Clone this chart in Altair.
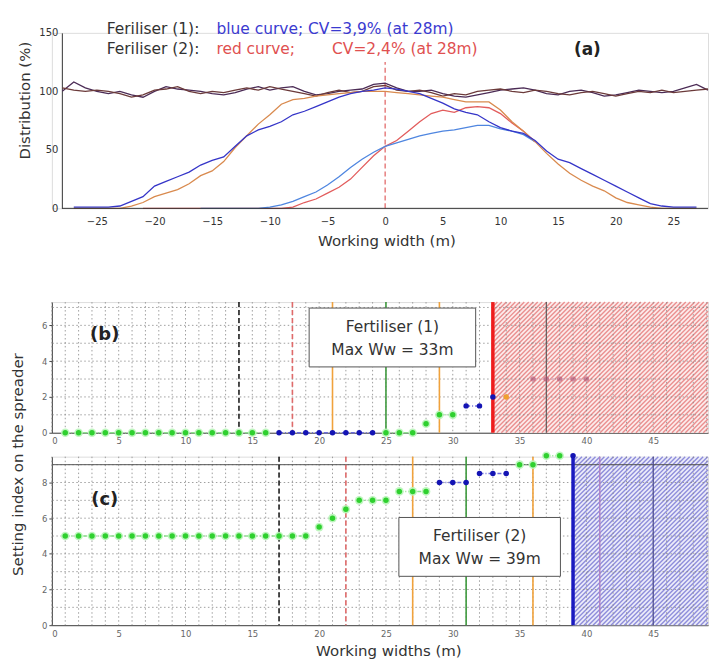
import altair as alt
import pandas as pd

FONT = "DejaVu Sans"

# ---------------- (a) distribution curves ----------------
a_sum_x = list(range(-28, 29))
a_sum1 = [100, 108, 103, 100, 98, 100, 97, 95, 100, 104,
          102, 101, 100, 98, 97, 99, 102, 104, 101, 103,
          104, 100, 97, 98, 100, 101, 102, 106, 107, 103,
          100, 100, 101, 98, 96, 95, 97, 99, 101, 102,
          103, 101, 98, 97, 100, 101, 99, 96, 97, 99,
          101, 100, 99, 100, 103, 106, 101]
a_sum2 = [103, 101, 100, 101, 100, 98, 95, 97, 101, 102,
          104, 100, 98, 100, 99, 101, 103, 101, 104, 102,
          100, 98, 96, 99, 101, 99, 100, 104, 105, 101,
          100, 101, 99, 96, 98, 97, 100, 101, 102, 100,
          99, 101, 100, 98, 97, 99, 100, 98, 96, 98,
          100, 99, 101, 99, 100, 101, 102]
a_main_x = list(range(-27, 28))
a_blue1 = [1, 1, 1, 1, 2, 6, 10, 19, 23, 27,
           31, 37, 41, 44, 53, 62, 67, 70, 74, 80,
           83, 87, 91, 95, 98, 100, 101, 103, 102, 100,
           98, 94, 90, 85, 82, 80, 74, 69, 66, 64,
           58, 49, 42, 39, 34, 29, 24, 19, 14, 9,
           4, 2, 1, 1, 1]
a_red1 = [0, 0, 0, 0, 0, 2, 5, 10, 13, 16,
          21, 28, 32, 40, 52, 62, 72, 80, 89, 93,
          94, 96, 97, 98, 99, 100, 100, 100, 99, 98,
          97, 96, 95, 93, 91, 91, 91, 84, 74, 66,
          57, 47, 38, 30, 24, 19, 15, 9, 5, 3,
          1, 0, 0, 0, 0]
a_blue2_x = [-16] + list(range(-11, 14))
a_blue2 = [0, 0, 1, 3, 6, 10, 14, 20, 27, 35, 42, 48, 53, 56, 59, 62, 64, 66,
           67, 69, 71, 71, 68, 66, 63, 57]
a_red2_x = [-21] + list(range(-9, 14))
a_red2 = [0, 0, 1, 5, 8, 13, 18, 25, 35, 45, 53, 58, 66, 74, 81, 84, 82, 86,
          87, 86, 81, 73, 66, 57]

# ---------------- (b) Fertiliser 1 settings ----------------
b_pts_x = list(range(1, 17)) + list(range(17, 25)) + [25, 26, 27, 28, 29, 30] + [31, 32, 33] + [34] + [36, 37, 38, 39, 40]
b_pts_y = [0] * 16 + [0] * 8 + [0, 0, 0, 0.5, 1, 1] + [1.5, 1.5, 2] + [2] + [3, 3, 3, 3, 3]
b_pts_c = ["green"] * 16 + ["blue"] * 8 + ["green"] * 6 + ["blue"] * 3 + ["orange"] + ["faint"] * 5
b_lines_x = [14, 18, 21, 25, 29, 33, 37]
b_lines_k = ["black_dash", "red_dash", "orange", "green", "orange", "max_red", "dark"]
b_max_ww = 33

# ---------------- (c) Fertiliser 2 settings ----------------
c_pts_x = list(range(1, 20)) + [20, 21, 22, 23, 24, 25, 26, 27, 28] + [29, 30, 31, 32, 33, 34] + [35, 36, 37, 38] + [39]
c_pts_y = [5] * 19 + [5.5, 6, 6.5, 7, 7, 7, 7.5, 7.5, 7.5] + [8, 8, 8, 8.5, 8.5, 8.5] + [9, 9, 9.5, 9.5] + [9.5]
c_pts_c = ["green"] * 19 + ["green"] * 9 + ["blue"] * 6 + ["green"] * 4 + ["blue"]
c_lines_x = [17, 22, 27, 31, 36, 39, 41, 45]
c_lines_k = ["black_dash", "red_dash", "orange", "green", "orange", "max_blue", "purple", "darkblue"]
c_max_ww = 39

# ---------------- layout constants ----------------
W = 658
HA, HB, HC = 176, 131, 169
XMAX = 49.1
YB_MAX, YC_MAX = 7.3, 9.45

LINE_STYLE = {
    "black_dash": dict(color="#222222", strokeWidth=1.6, strokeDash=[5, 3]),
    "red_dash": dict(color="#e06a6a", strokeWidth=1.6, strokeDash=[5, 3]),
    "orange": dict(color="#f0a23c", strokeWidth=1.6),
    "green": dict(color="#3f9a3f", strokeWidth=1.6),
    "max_red": dict(color="#ee1c1c", strokeWidth=3.5),
    "max_blue": dict(color="#1a1ac0", strokeWidth=3.5),
    "dark": dict(color="#555555", strokeWidth=1.1),
    "purple": dict(color="#b080c8", strokeWidth=1.4),
    "darkblue": dict(color="#4a4a90", strokeWidth=1.2),
}
PT_COLOR = {"green": "#2fd02f", "blue": "#1414b4", "orange": "#f0a030", "faint": "#b05070"}
RUN_COLOR = {"green": "#8fe08f", "blue": "#6c6cd8", "orange": "#f5c27a", "faint": "#e0b0c0"}
SERIES_COLOR = {"sum1": "#4b2b55", "sum2": "#6b3a3a", "red2": "#e25c5c",
                "blue2": "#4f86e0", "red1": "#d98a4e", "blue1": "#3535c8"}


def label(text, x, y, size=15, color="#333333", weight="normal", align="left", angle=0):
    return alt.Chart(pd.DataFrame({"t": [text]})).mark_text(
        align=align, baseline="middle", fontSize=size, color=color,
        fontWeight=weight, font=FONT, angle=angle
    ).encode(x=alt.value(x), y=alt.value(y), text="t:N")


def box(x, x2, y, y2):
    return alt.Chart(pd.DataFrame({"t": [0]})).mark_rect(
        fill="white", stroke="#555555", strokeWidth=1
    ).encode(x=alt.value(x), x2=alt.value(x2), y=alt.value(y), y2=alt.value(y2))


def hatch_segments(x0, x1, y0, y1, sx, sy, spacing=5.0):
    w = (x1 - x0) * sx
    h = (y1 - y0) * sy
    segs = []
    k = -h
    while k < w:
        ya = max(0.0, -k)
        yb = min(h, w - k)
        if yb > ya:
            segs.append((x0 + (ya + k) / sx, y0 + ya / sy, x0 + (yb + k) / sx, y0 + yb / sy))
        k += spacing
    return pd.DataFrame(segs, columns=["x", "y", "x2", "y2"])


def runs(df):
    run_id, rid = [], 0
    prev = None
    for _, r in df.iterrows():
        if prev is None or r["c"] != prev["c"] or r["y"] != prev["y"] or r["x"] - prev["x"] > 1:
            rid += 1
        run_id.append(rid)
        prev = r
    out = df.copy()
    out["run"] = run_id
    return out


# ---------------- panel (a) ----------------
rows = []
for name, xs, ys in [("sum1", a_sum_x, a_sum1), ("sum2", a_sum_x, a_sum2),
                     ("red2", a_red2_x, a_red2), ("blue2", a_blue2_x, a_blue2),
                     ("red1", a_main_x, a_red1), ("blue1", a_main_x, a_blue1)]:
    for xv, yv in zip(xs, ys):
        rows.append({"series": name, "x": xv, "y": yv, "col": SERIES_COLOR[name]})
df_a = pd.DataFrame(rows)

xa_scale = alt.Scale(domain=[-28.9, 28], nice=False, zero=False)
ya_scale = alt.Scale(domain=[0, 150], nice=False)
xa_axis = alt.Axis(values=list(range(-25, 30, 5)), title=None, grid=False, domain=False,
                   ticks=False, labelPadding=8, labelFontSize=10, labelColor="#333333", labelFont=FONT)
ya_axis = alt.Axis(values=[0, 50, 100, 150], title=None, grid=False, offset=-10,
                   domainColor="#333333", ticks=False, labelPadding=4, labelFontSize=10,
                   labelColor="#333333", labelFont=FONT)

curves = alt.Chart(df_a).mark_line(strokeWidth=1.3).encode(
    x=alt.X("x:Q", scale=xa_scale, axis=xa_axis),
    y=alt.Y("y:Q", scale=ya_scale, axis=ya_axis),
    color=alt.Color("col:N", scale=None),
    detail="series:N",
)
zero_line = alt.Chart(pd.DataFrame({"t": [0]})).mark_rule(
    color="#e06060", strokeDash=[5, 3], strokeWidth=1.2
).encode(x=alt.datum(0, scale=xa_scale), y=alt.datum(0, scale=ya_scale), y2=alt.datum(125))
base_line = alt.Chart(pd.DataFrame({"t": [0]})).mark_rule(color="#333333", strokeWidth=1).encode(
    x=alt.datum(-28, scale=xa_scale), x2=alt.datum(28), y=alt.datum(0, scale=ya_scale))

panel_a = alt.layer(
    zero_line, curves, base_line,
    label("Feriliser (1):", 55, -4, size=15.5),
    label("blue curve; CV=3,9% (at 28m)", 165, -4, size=15.5, color="#3a3ad0"),
    label("Feriliser (2):", 55, 16, size=15.5),
    label("red curve;", 165, 16, size=15.5, color="#e05050"),
    label("CV=2,4% (at 28m)", 281, 16, size=15.5, color="#e05050"),
    label("(a)", 537, 17, size=17, weight="bold", align="center", color="#222222"),
    label("Distribution (%)", -27, 68, size=15, align="center", angle=270),
    label("Working width (m)", 336, 209, size=15, align="center"),
).properties(width=W, height=HA)


# ---------------- panels (b), (c) ----------------
def settings_panel(pts_x, pts_y, pts_c, lines_x, lines_k, max_ww, ymax, height,
                   yvals, hatch_color, hatch_fill, tag, box_px, box_lines, tag_y, extra=None):
    xs = alt.Scale(domain=[0, XMAX], nice=False, zero=False)
    ys = alt.Scale(domain=[0, ymax], nice=False, zero=False)
    x_axis = alt.Axis(values=list(range(0, 50, 5)), title=None, grid=False, ticks=False,
                      domainColor="#444444", labelPadding=4, labelFontSize=8.5,
                      labelColor="#666666", labelFont=FONT)
    y_axis = alt.Axis(values=yvals, title=None, grid=False, tickSize=3, tickColor="#444444",
                      domainColor="#444444", labelPadding=2, labelFontSize=8.5,
                      labelColor="#666666", labelFont=FONT)

    def X(f):
        return alt.X(f, scale=xs, axis=x_axis)

    def Y(f):
        return alt.Y(f, scale=ys, axis=y_axis)

    sx = W / XMAX
    sy = height / ymax
    fill = alt.Chart(pd.DataFrame({"t": [0]})).mark_rect(color=hatch_fill).encode(
        x=alt.datum(max_ww, scale=xs), x2=alt.datum(XMAX),
        y=alt.datum(0, scale=ys), y2=alt.datum(ymax))
    hdf = hatch_segments(max_ww, XMAX, 0, ymax, sx, sy, spacing=4.5)
    hatch = alt.Chart(hdf).mark_rule(color=hatch_color, strokeWidth=1.4, opacity=0.75).encode(
        x=X("x:Q"), y=Y("y:Q"), x2="x2:Q", y2="y2:Q")

    gx = pd.DataFrame({"x": list(range(0, 50))})
    gy = pd.DataFrame({"y": [v for v in range(1, int(ymax) + 1)]})
    grid_v = alt.Chart(gx).mark_rule(color="#888888", strokeWidth=0.8, strokeDash=[1.5, 2.5]).encode(x=X("x:Q"))
    grid_h = alt.Chart(gy).mark_rule(color="#888888", strokeWidth=0.8, strokeDash=[1.5, 2.5]).encode(y=Y("y:Q"))

    ldf = pd.DataFrame({"x": lines_x, "k": lines_k})
    line_layers = []
    for k, st in LINE_STYLE.items():
        sub = ldf[ldf["k"] == k]
        if len(sub):
            line_layers.append(alt.Chart(sub).mark_rule(**st).encode(x=X("x:Q")))

    pdf = pd.DataFrame({"x": pts_x, "y": pts_y, "c": pts_c})
    pdf["col"] = pdf["c"].map(PT_COLOR)
    pdf["rcol"] = pdf["c"].map(RUN_COLOR)
    rdf = runs(pdf)
    run_lines = alt.Chart(rdf).mark_line(strokeWidth=1.5, strokeDash=[4, 2, 1, 2]).encode(
        x=X("x:Q"), y=Y("y:Q"),
        color=alt.Color("rcol:N", scale=None),
        detail="run:N")
    halo = alt.Chart(pdf[pdf["c"] == "green"]).mark_circle(size=75, color="#b8f5b8", opacity=0.9).encode(
        x=X("x:Q"), y=Y("y:Q"))
    dots = alt.Chart(pdf).mark_circle(size=30).encode(
        x=X("x:Q"), y=Y("y:Q"),
        color=alt.Color("col:N", scale=None),
        opacity=alt.condition(alt.datum.c == "faint", alt.value(0.6), alt.value(1.0)))

    layers = [fill, hatch, grid_v, grid_h]
    if extra is not None:
        layers += extra(X, Y)
    layers += line_layers + [run_lines, halo, dots]
    bx, bx2, by, by2 = box_px
    cx = (bx + bx2) / 2
    layers += [box(bx, bx2, by, by2),
               label(box_lines[0], cx, box_lines[2], size=15.5, align="center"),
               label(box_lines[1], cx, box_lines[3], size=15.5, align="center"),
               label(tag, 53, tag_y, size=18, weight="bold", align="center", color="#222222")]
    return layers


def top_line_c(X, Y):
    return [alt.Chart(pd.DataFrame({"t": [0]})).mark_rule(color="#555555", strokeWidth=1).encode(
        y=alt.datum(9, scale=alt.Scale(domain=[0, YC_MAX], nice=False, zero=False)))]


layers_b = settings_panel(b_pts_x, b_pts_y, b_pts_c, b_lines_x, b_lines_k, b_max_ww,
                          YB_MAX, HB, [0, 2, 4, 6], "#e47070", "#fcecec", "(b)",
                          (258, 425, 6, 65), ("Fertiliser (1)", "Max Ww = 33m", 25, 48), 33)
panel_b = alt.layer(*layers_b).properties(width=W, height=HB)

layers_c = settings_panel(c_pts_x, c_pts_y, c_pts_c, c_lines_x, c_lines_k, c_max_ww,
                          YC_MAX, HC, [0, 2, 4, 6, 8], "#6f6dd0", "#ececfa", "(c)",
                          (348, 510, 61, 120), ("Fertiliser (2)", "Max Ww = 39m", 80, 103), 43,
                          extra=top_line_c)
layers_c += [label("Working widths (m)", 338, 195, size=15, align="center"),
             label("Setting index on the spreader", -34, 8, size=15, align="center", angle=270)]
panel_c = alt.layer(*layers_c).properties(width=W, height=HC)

inner = alt.vconcat(panel_b, panel_c, spacing=24, bounds="flush")
chart = alt.vconcat(panel_a, inner, spacing=94, bounds="flush").properties(
    padding={"left": 2, "top": 12, "right": 0, "bottom": 0}
).configure_view(stroke=None).configure(font=FONT)

chart.save("out.html", embed_options={"renderer": "svg", "actions": False})
